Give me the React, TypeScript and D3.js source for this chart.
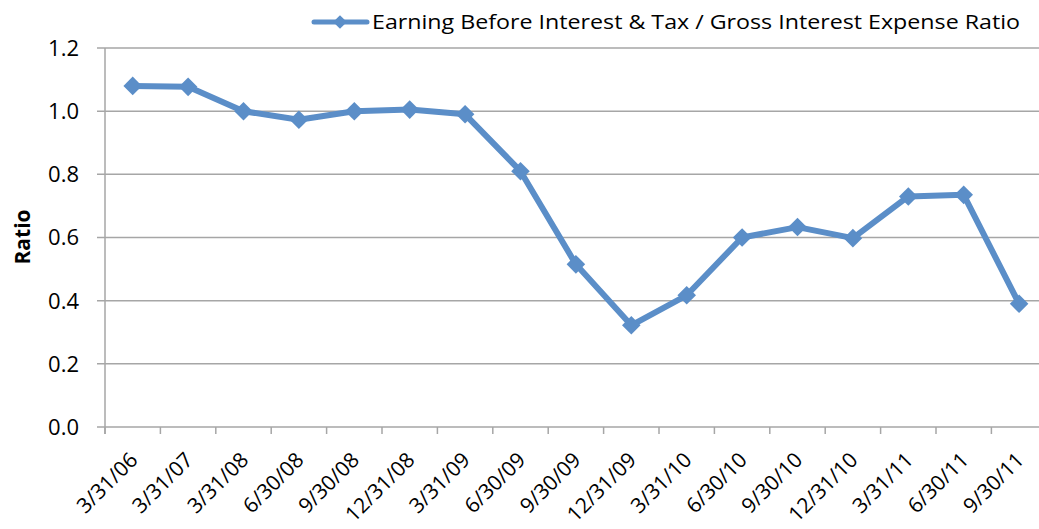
import { useEffect, useRef } from "react";
import * as d3 from "d3";

const categories = [
  "3/31/06", "3/31/07", "3/31/08", "6/30/08", "9/30/08", "12/31/08", "3/31/09",
  "6/30/09", "9/30/09", "12/31/09", "3/31/10", "6/30/10", "9/30/10", "12/31/10",
  "3/31/11", "6/30/11", "9/30/11",
];
const ratioValues = [
  1.08, 1.077, 1.0, 0.973, 1.0, 1.005, 0.99, 0.81, 0.515, 0.322, 0.417, 0.6,
  0.633, 0.598, 0.73, 0.735, 0.39,
];
const yTicks = [0, 0.2, 0.4, 0.6, 0.8, 1.0, 1.2];
const seriesName = "Earning Before Interest & Tax / Gross Interest Expense Ratio";

const App = () => {
  const ref = useRef<SVGSVGElement>(null);

  useEffect(() => {
    const svg = d3.select(ref.current);
    svg.selectAll("*").remove();

    const W = 1039, H = 529;
    const left = 105, bandW = 55.4;
    const color = "#5B8EC8";
    const grid = "#a6a6a6";
    const font = "'Open Sans', sans-serif";

    const x = d3.scaleBand<string>()
      .domain(categories)
      .range([left, left + bandW * categories.length]);
    const y = d3.scaleLinear().domain([0, 1.2]).range([427, 48]);

    // gridlines + y tick labels
    const g = svg.append("g");
    yTicks.forEach(t => {
      g.append("line")
        .attr("x1", 97).attr("x2", W)
        .attr("y1", y(t)).attr("y2", y(t))
        .attr("stroke", grid).attr("stroke-width", 1.5);
      g.append("text")
        .attr("x", 79).attr("y", y(t))
        .attr("dy", "0.36em")
        .attr("text-anchor", "end")
        .attr("font-family", font).attr("font-size", 22)
        .attr("fill", "#000")
        .text(t.toFixed(1));
    });

    // y axis line
    g.append("line")
      .attr("x1", left).attr("x2", left)
      .attr("y1", y(1.2)).attr("y2", y(0) + 7)
      .attr("stroke", grid).attr("stroke-width", 1.5);

    // x ticks at band boundaries
    categories.forEach(c => {
      const bx = x(c)!;
      g.append("line")
        .attr("x1", bx).attr("x2", bx)
        .attr("y1", y(0)).attr("y2", y(0) + 7)
        .attr("stroke", grid).attr("stroke-width", 1.5);
    });

    // x tick labels
    categories.forEach(c => {
      const cx = x(c)! + x.bandwidth() / 2;
      g.append("text")
        .attr("transform", `translate(${cx + 1},${456}) rotate(-45)`)
        .attr("text-anchor", "end")
        .attr("dy", "0.35em")
        .attr("font-family", font).attr("font-size", 21)
        .attr("fill", "#000")
        .text(c);
    });

    // y axis title
    svg.append("text")
      .attr("transform", `translate(30,${237}) rotate(-90)`)
      .attr("text-anchor", "middle")
      .attr("font-family", font).attr("font-size", 21)
      .attr("font-weight", "bold")
      .text("Ratio");

    const px = (i: number) => x(categories[i])! + x.bandwidth() / 2;

    // series line
    const line = d3.line<number>()
      .x((_, i) => px(i))
      .y(d => y(d));
    svg.append("path")
      .datum(ratioValues)
      .attr("fill", "none")
      .attr("stroke", color)
      .attr("stroke-width", 6)
      .attr("stroke-linejoin", "round")
      .attr("d", line);

    const diamond = d3.symbol().type(d3.symbolDiamond2).size(220);
    svg.append("g").selectAll("path")
      .data(ratioValues)
      .join("path")
      .attr("transform", (d, i) => `translate(${px(i)},${y(d)})`)
      .attr("d", diamond)
      .attr("fill", color);

    // legend
    const lg = svg.append("g");
    lg.append("line")
      .attr("x1", 314).attr("x2", 367)
      .attr("y1", 22).attr("y2", 22)
      .attr("stroke", color).attr("stroke-width", 5)
      .attr("stroke-linecap", "round");
    lg.append("path")
      .attr("transform", "translate(340,22)")
      .attr("d", d3.symbol().type(d3.symbolDiamond2).size(120))
      .attr("fill", color);
    lg.append("text")
      .attr("x", 372).attr("y", 22)
      .attr("dy", "0.35em")
      .attr("font-family", font).attr("font-size", 20)
      .attr("textLength", 648)
      .attr("lengthAdjust", "spacingAndGlyphs")
      .text(seriesName);

    svg.attr("width", W).attr("height", H);
  }, []);

  return (
    <svg
      ref={ref}
      width={1039}
      height={529}
      style={{ position: "absolute", left: 0, top: 0, background: "#fff" }}
    />
  );
};

export default App;
